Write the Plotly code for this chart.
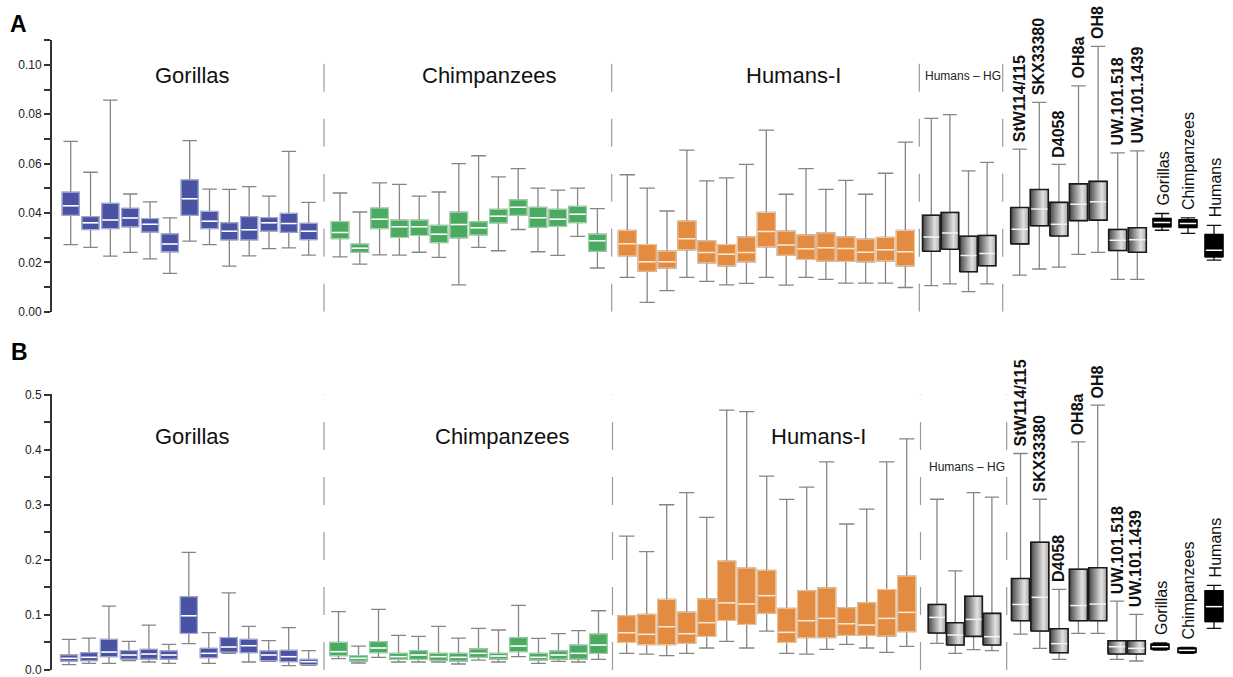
import plotly.graph_objects as go

# ---------------- DATA: each box = (lower whisker, Q1, median, Q3, upper whisker)
GOR_A = [(0.0272, 0.0391, 0.0429, 0.0484, 0.0690), (0.0261, 0.0333, 0.0360, 0.0385, 0.0565),
         (0.0225, 0.0337, 0.0372, 0.0439, 0.0857), (0.0240, 0.0344, 0.0380, 0.0419, 0.0477),
         (0.0214, 0.0323, 0.0354, 0.0377, 0.0445), (0.0155, 0.0243, 0.0274, 0.0315, 0.0380),
         (0.0286, 0.0391, 0.0458, 0.0534, 0.0693), (0.0272, 0.0337, 0.0367, 0.0406, 0.0497),
         (0.0185, 0.0291, 0.0326, 0.0360, 0.0496), (0.0226, 0.0291, 0.0332, 0.0385, 0.0507),
         (0.0256, 0.0327, 0.0360, 0.0381, 0.0468), (0.0259, 0.0322, 0.0357, 0.0398, 0.0650),
         (0.0229, 0.0292, 0.0326, 0.0358, 0.0443)]
CHI_A = [(0.0222, 0.0296, 0.0321, 0.0365, 0.0481), (0.0193, 0.0241, 0.0257, 0.0274, 0.0404),
         (0.0230, 0.0337, 0.0375, 0.0420, 0.0522), (0.0229, 0.0301, 0.0344, 0.0371, 0.0516),
         (0.0241, 0.0309, 0.0344, 0.0371, 0.0468), (0.0220, 0.0280, 0.0314, 0.0350, 0.0485),
         (0.0109, 0.0299, 0.0353, 0.0403, 0.0600), (0.0261, 0.0311, 0.0340, 0.0364, 0.0632),
         (0.0247, 0.0360, 0.0387, 0.0415, 0.0546), (0.0333, 0.0391, 0.0423, 0.0453, 0.0580),
         (0.0243, 0.0342, 0.0381, 0.0423, 0.0501), (0.0228, 0.0346, 0.0375, 0.0415, 0.0493),
         (0.0305, 0.0361, 0.0395, 0.0427, 0.0501), (0.0177, 0.0245, 0.0288, 0.0314, 0.0418)]
HUM_A = [(0.0139, 0.0226, 0.0275, 0.0329, 0.0555), (0.0038, 0.0164, 0.0202, 0.0272, 0.0501),
         (0.0085, 0.0177, 0.0202, 0.0245, 0.0408), (0.0139, 0.0251, 0.0296, 0.0367, 0.0655),
         (0.0123, 0.0198, 0.0240, 0.0287, 0.0530), (0.0109, 0.0186, 0.0233, 0.0272, 0.0542),
         (0.0115, 0.0202, 0.0240, 0.0303, 0.0597), (0.0139, 0.0263, 0.0325, 0.0402, 0.0736),
         (0.0108, 0.0229, 0.0270, 0.0326, 0.0476), (0.0139, 0.0212, 0.0255, 0.0311, 0.0580),
         (0.0131, 0.0205, 0.0259, 0.0319, 0.0496), (0.0116, 0.0204, 0.0256, 0.0303, 0.0532),
         (0.0116, 0.0202, 0.0241, 0.0294, 0.0476), (0.0116, 0.0206, 0.0251, 0.0301, 0.0561),
         (0.0098, 0.0186, 0.0243, 0.0329, 0.0687)]
HG_A = [(0.0106, 0.0245, 0.0303, 0.0391, 0.0783), (0.0113, 0.0253, 0.0319, 0.0402, 0.0799),
        (0.0081, 0.0162, 0.0228, 0.0306, 0.0571), (0.0113, 0.0186, 0.0236, 0.0309, 0.0605)]
FOS_A = [(0.0148, 0.0275, 0.0334, 0.0422, 0.0659), (0.0173, 0.0348, 0.0416, 0.0495, 0.0848),
         (0.0181, 0.0307, 0.0354, 0.0443, 0.0597), (0.0232, 0.0369, 0.0435, 0.0518, 0.0915),
         (0.0240, 0.0371, 0.0446, 0.0528, 0.1075), (0.0131, 0.0248, 0.0290, 0.0333, 0.0644),
         (0.0131, 0.0241, 0.0292, 0.0340, 0.0652)]
SUM_A = [(0.0330, 0.0344, 0.0361, 0.0378, 0.0398), (0.0317, 0.0341, 0.0357, 0.0373, 0.0380),
         (0.0209, 0.0222, 0.0249, 0.0313, 0.0350)]

GOR_B = [(0.0097, 0.0163, 0.0212, 0.0272, 0.0556), (0.0121, 0.0169, 0.0230, 0.0314, 0.0580),
         (0.0121, 0.0242, 0.0326, 0.0556, 0.1160), (0.0169, 0.0200, 0.0272, 0.0351, 0.0520),
         (0.0145, 0.0200, 0.0290, 0.0375, 0.0816), (0.0121, 0.0200, 0.0272, 0.0345, 0.0466),
         (0.0478, 0.0665, 0.0985, 0.1330, 0.2134), (0.0121, 0.0224, 0.0302, 0.0393, 0.0677),
         (0.0302, 0.0326, 0.0417, 0.0586, 0.1400), (0.0145, 0.0314, 0.0441, 0.0556, 0.0792),
         (0.0157, 0.0169, 0.0272, 0.0345, 0.0532), (0.0079, 0.0151, 0.0242, 0.0357, 0.0768),
         (0.0085, 0.0097, 0.0151, 0.0193, 0.0350)]
CHI_B = [(0.0206, 0.0260, 0.0333, 0.0502, 0.1058), (0.0127, 0.0163, 0.0212, 0.0260, 0.0435),
         (0.0230, 0.0314, 0.0399, 0.0514, 0.1100), (0.0145, 0.0193, 0.0242, 0.0302, 0.0629),
         (0.0145, 0.0193, 0.0272, 0.0351, 0.0610), (0.0145, 0.0175, 0.0242, 0.0302, 0.0792),
         (0.0109, 0.0163, 0.0230, 0.0302, 0.0580), (0.0181, 0.0230, 0.0302, 0.0381, 0.0756),
         (0.0145, 0.0200, 0.0254, 0.0302, 0.0726), (0.0242, 0.0333, 0.0435, 0.0586, 0.1173),
         (0.0121, 0.0181, 0.0230, 0.0302, 0.0574), (0.0157, 0.0200, 0.0272, 0.0345, 0.0659),
         (0.0145, 0.0200, 0.0302, 0.0453, 0.0713), (0.0193, 0.0302, 0.0453, 0.0653, 0.1076)]
HUM_B = [(0.0302, 0.0502, 0.0677, 0.0985, 0.243), (0.0290, 0.0460, 0.0647, 0.101, 0.215),
         (0.0260, 0.0460, 0.0786, 0.128, 0.300), (0.0302, 0.0484, 0.0659, 0.105, 0.322),
         (0.0399, 0.0610, 0.0859, 0.129, 0.277), (0.0520, 0.0900, 0.122, 0.1977, 0.4716),
         (0.0399, 0.0828, 0.1197, 0.185, 0.469), (0.0707, 0.103, 0.135, 0.181, 0.352),
         (0.0302, 0.0502, 0.0683, 0.112, 0.3096), (0.0290, 0.0586, 0.0895, 0.144, 0.332),
         (0.0375, 0.0586, 0.0937, 0.149, 0.378), (0.0466, 0.0629, 0.0840, 0.113, 0.265),
         (0.0399, 0.0629, 0.0816, 0.122, 0.292), (0.0320, 0.0617, 0.0937, 0.146, 0.378),
         (0.0429, 0.0695, 0.1046, 0.1705, 0.4196)]
HG_B = [(0.0484, 0.0671, 0.0955, 0.119, 0.310), (0.0302, 0.0453, 0.0635, 0.0859, 0.180),
        (0.0369, 0.0610, 0.0919, 0.134, 0.322), (0.0351, 0.0453, 0.0605, 0.1028, 0.314)]
FOS_B = [(0.0653, 0.0895, 0.119, 0.166, 0.393), (0.0393, 0.0707, 0.132, 0.232, 0.310),
         (0.0193, 0.0314, 0.0478, 0.075, 0.1463), (0.0665, 0.0895, 0.117, 0.183, 0.414),
         (0.0665, 0.0895, 0.1197, 0.1856, 0.4807), (0.0193, 0.0290, 0.0423, 0.0532, 0.125),
         (0.0163, 0.0290, 0.0393, 0.0532, 0.101)]
SUM_B = [(0.0360, 0.0375, 0.0423, 0.0472, 0.0490), (0.0300, 0.0314, 0.0357, 0.0399, 0.0410),
         (0.0756, 0.0877, 0.1150, 0.1440, 0.1536)]

GROUP_NAMES = ["Gorillas", "Chimpanzees", "Humans-I", "Humans \u2013 HG"]
FOSSIL_NAMES = ["StW114/115", "SKX33380", "D4058", "OH8a", "OH8", "UW.101.518", "UW.101.1439"]
SUMMARY_NAMES = ["Gorillas", "Chimpanzees", "Humans"]

# ---------------- LAYOUT CONSTANTS (x axis in pixel-like units)
W, H = 1233, 677
X0 = 52
FONT = "Liberation Sans, Arial, Helvetica, sans-serif"
WHISK = "#858585"


def xs(start, step, n):
    return [start + step * i for i in range(n)]


POS = {
    "A": dict(gor=xs(70.7, 19.83, 13), chi=xs(340.0, 19.8, 14), hum=xs(627.3, 19.86, 15),
              hg=xs(931.3, 18.6, 4), fos=xs(1019.7, 19.6, 7), sum=[1162, 1188, 1214],
              seps=[324, 611.7, 919.3, 1002.7]),
    "B": dict(gor=xs(69.0, 19.97, 13), chi=xs(338.5, 20.0, 14), hum=xs(626.7, 20.0, 15),
              hg=xs(937.0, 18.3, 4), fos=xs(1020.5, 19.3, 7), sum=[1160, 1187, 1214],
              seps=[324, 612.5, 920.5, 1006.7]),
}

fig = go.Figure()


def cols(rows):
    return [list(c) for c in zip(*rows)]


def add_medians(x, md, w, ax, color="white", width=1.5):
    mx, my = [], []
    for xi, m in zip(x, md):
        mx += [xi - w / 2 + 0.8, xi + w / 2 - 0.8, None]
        my += [m, m, None]
    fig.add_trace(go.Scatter(x=mx, y=my, mode="lines", line=dict(color=color, width=width),
                             xaxis=ax[0], yaxis=ax[1], hoverinfo="skip", showlegend=False))


def add_flat(rows, x, w, fill, edge, ax, whisk=WHISK, med="white", ww=0.85):
    lo, q1, md, q3, hi = cols(rows)
    fig.add_trace(go.Box(x=x, lowerfence=lo, q1=q1, median=md, q3=q3, upperfence=hi,
                         width=w, whiskerwidth=ww, fillcolor=fill,
                         line=dict(color=whisk, width=1.3), xaxis=ax[0], yaxis=ax[1],
                         hoverinfo="skip", showlegend=False))
    fig.add_trace(go.Box(x=x, lowerfence=q1, q1=q1, median=md, q3=q3, upperfence=q3,
                         width=w, whiskerwidth=0, fillcolor=fill,
                         line=dict(color=edge, width=1), xaxis=ax[0], yaxis=ax[1],
                         hoverinfo="skip", showlegend=False))
    add_medians(x, md, w, ax, med)


def add_gradient(rows, x, w, ax):
    lo, q1, md, q3, hi = cols(rows)
    fig.add_trace(go.Box(x=x, lowerfence=lo, q1=q1, median=md, q3=q3, upperfence=hi,
                         width=w, whiskerwidth=0.8, fillcolor="#999999",
                         line=dict(color=WHISK, width=1.3), xaxis=ax[0], yaxis=ax[1],
                         hoverinfo="skip", showlegend=False))
    for xi, a, b in zip(x, q1, q3):
        fig.add_trace(go.Scatter(
            x=[xi - w / 2, xi + w / 2, xi + w / 2, xi - w / 2, xi - w / 2],
            y=[a, a, b, b, a], mode="lines", fill="toself",
            fillgradient=dict(type="horizontal",
                              colorscale=[[0, "#474747"], [0.7, "#e2e2e2"], [1, "#a8a8a8"]]),
            line=dict(color="#1a1a1a", width=1.6), xaxis=ax[0], yaxis=ax[1],
            hoverinfo="skip", showlegend=False))
    add_medians(x, md, w, ax, "#f4f4f4", 1.5)


panels = {
    "A": dict(ax=("x", "y"), data=(GOR_A, CHI_A, HUM_A, HG_A, FOS_A, SUM_A)),
    "B": dict(ax=("x2", "y2"), data=(GOR_B, CHI_B, HUM_B, HG_B, FOS_B, SUM_B)),
}

annotations = []
shapes = []
for key, p in panels.items():
    ax = p["ax"]
    gor, chi, hum, hg, fos, summ = p["data"]
    pos = POS[key]
    add_flat(gor, pos["gor"], 17, "#4a53a3", "#aab2e0", ax)
    add_flat(chi, pos["chi"], 17.5, "#4aab60", "#a6dcb2", ax)
    add_flat(hum, pos["hum"], 18, "#e38b40", "#f6c99c", ax, med="#fbe6cf")
    add_gradient(hg, pos["hg"], 17.5, ax)
    add_gradient(fos, pos["fos"], 18, ax)
    add_flat(summ, pos["sum"], 18, "#000000", "#000000", ax, whisk="#111111", ww=0.8)

    ymax = 0.11 if key == "A" else 0.5
    yref = "y" if key == "A" else "y2"
    xref = "x" if key == "A" else "x2"
    for sx in pos["seps"]:
        shapes.append(dict(type="line", xref=xref, yref=yref, x0=sx, x1=sx, y0=0, y1=ymax,
                           line=dict(color="#9a9a9a", width=1.2, dash="28px,27px")))

    # group labels
    if key == "A":
        gl = [(192, 0.0957), (489, 0.0957), (793, 0.0957)]
        hgl = (963, 0.0957)
    else:
        gl = [(192, 0.4235), (502, 0.4235), (818, 0.4235)]
        hgl = (967, 0.3687)
    for (gx, gy), name in zip(gl, GROUP_NAMES[:3]):
        annotations.append(dict(x=gx, y=gy, xref=xref, yref=yref, text=name, showarrow=False,
                                font=dict(family=FONT, size=22, color="#111"),
                                xanchor="center", yanchor="middle"))
    annotations.append(dict(x=hgl[0], y=hgl[1], xref=xref, yref=yref, text=GROUP_NAMES[3],
                            showarrow=False, font=dict(family=FONT, size=12, color="#222"),
                            xanchor="center", yanchor="middle"))
    # fossil labels
    for xi, row, name in zip(pos["fos"], fos, FOSSIL_NAMES):
        annotations.append(dict(x=xi, y=row[4], xref=xref, yref=yref, text="<b>%s</b>" % name,
                                showarrow=False, textangle=-90, yshift=5,
                                font=dict(family=FONT, size=16, color="#111"),
                                xanchor="center", yanchor="bottom"))
    for xi, row, name in zip(pos["sum"], summ, SUMMARY_NAMES):
        annotations.append(dict(x=xi + 1, y=row[4], xref=xref, yref=yref, text=name,
                                showarrow=False, textangle=-90, yshift=6,
                                font=dict(family=FONT, size=16, color="#111"),
                                xanchor="center", yanchor="bottom"))

PW = W - X0  # plot-area width (paper coordinates are relative to it)
annotations.append(dict(x=(8 - X0) / PW, y=1 - 9 / H, xref="paper", yref="paper",
                        text="<b>A</b>", showarrow=False,
                        font=dict(family=FONT, size=23, color="#000"),
                        xanchor="left", yanchor="top"))
annotations.append(dict(x=(9 - X0) / PW, y=1 - 337 / H, xref="paper", yref="paper",
                        text="<b>B</b>", showarrow=False,
                        font=dict(family=FONT, size=23, color="#000"),
                        xanchor="left", yanchor="top"))

xcommon = dict(domain=[0, 1], range=[X0, W], visible=False, showgrid=False, zeroline=False,
               automargin=False)
ycommon = dict(showgrid=False, zeroline=False, showline=True, linecolor="#333", linewidth=2,
               ticks="outside", ticklen=6, tickcolor="#333", tickwidth=1.5, automargin=False,
               ticklabeloverflow="allow",
               tickfont=dict(family=FONT, size=12, color="#222"))

fig.update_layout(
    width=W, height=H, margin=dict(l=X0, r=0, t=0, b=0, autoexpand=False),
    paper_bgcolor="white", plot_bgcolor="white", showlegend=False,
    xaxis=dict(anchor="y", **xcommon),
    xaxis2=dict(anchor="y2", **xcommon),
    yaxis=dict(anchor="x", domain=[(H - 311.7) / H, (H - 40) / H], range=[0, 0.1101],
               tick0=0, dtick=0.02, tickformat=".2f",
               minor=dict(dtick=0.01, tick0=0, ticks="outside", ticklen=6, tickcolor="#333",
                          tickwidth=1.5, showgrid=False),
               **ycommon),
    yaxis2=dict(anchor="x2", domain=[(H - 670) / H, (H - 394.3) / H], range=[0, 0.5005],
                tick0=0, dtick=0.1, tickformat=".1f",
                minor=dict(dtick=0.05, tick0=0, ticks="outside", ticklen=6, tickcolor="#333",
                           tickwidth=1.5, showgrid=False),
                **ycommon),
    shapes=shapes, annotations=annotations, boxmode="overlay",
)

fig.write_html("out.html", config={"displayModeBar": False},
               post_script="document.body.style.margin='0';document.body.style.overflow='hidden';")
